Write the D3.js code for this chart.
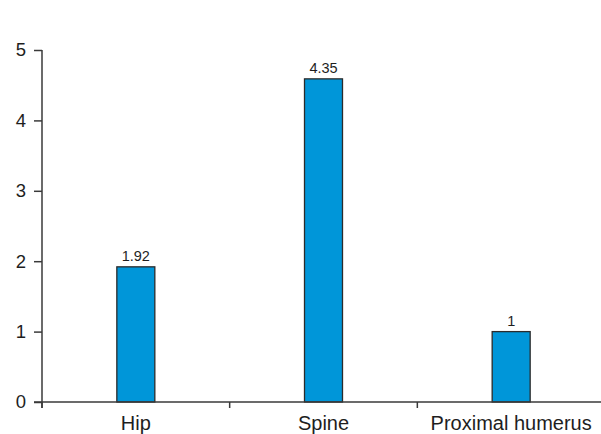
<!DOCTYPE html>
<html><head><meta charset="utf-8">
<script src="https://cdn.jsdelivr.net/npm/d3@7"></script>
<style>body{margin:0;background:#fff;} svg{display:block;font-family:"Liberation Sans",Arial,sans-serif;}</style>
</head><body>
<svg id="c" width="601" height="434"></svg>
<script>
const categories = ["Hip", "Spine", "Proximal humerus"];
const barValues = [1.92, 4.59, 1.0];
const valueLabels = ["1.92", "4.35", "1"];
const yTicks = [0, 1, 2, 3, 4, 5];

const svg = d3.select("#c");
const x = d3.scaleBand().domain(categories).range([42, 605]).paddingInner(0).paddingOuter(0);
const y = d3.scaleLinear().domain([0, 5]).range([402, 50]);
const barW = 38;
const ink = "#3a3a3a";

// bars
svg.selectAll("rect.bar").data(categories).join("rect")
  .attr("class", "bar")
  .attr("x", d => x(d) + x.bandwidth() / 2 - barW / 2)
  .attr("y", (d, i) => y(barValues[i]))
  .attr("width", barW)
  .attr("height", (d, i) => y(0) - y(barValues[i]))
  .attr("fill", "#0096d9")
  .attr("stroke", "#2b2b2b")
  .attr("stroke-width", 1.3);

// value labels
svg.selectAll("text.val").data(categories).join("text")
  .attr("class", "val")
  .attr("x", d => x(d) + x.bandwidth() / 2)
  .attr("y", (d, i) => y(barValues[i]) - 6)
  .attr("text-anchor", "middle")
  .attr("font-size", 14.5)
  .attr("fill", "#1e1e1e")
  .text((d, i) => valueLabels[i]);

// y axis
const gy = svg.append("g").attr("transform", "translate(42,0)")
  .call(d3.axisLeft(y).tickValues(yTicks).tickFormat(d3.format("d")).tickSize(8).tickSizeOuter(0).tickPadding(8));
gy.select(".domain").attr("stroke", ink).attr("stroke-width", 1.5).attr("d", "M0,50V408");
gy.selectAll(".tick line").attr("stroke", ink).attr("stroke-width", 1.5);
gy.selectAll(".tick text").attr("font-size", 18.5).attr("fill", "#1e1e1e").attr("font-family", "Liberation Sans, Arial, sans-serif");

// x axis
const gx = svg.append("g").attr("transform", "translate(0,402)");
gx.append("line").attr("x1", 34).attr("x2", 601).attr("y1", 0).attr("y2", 0)
  .attr("stroke", ink).attr("stroke-width", 1.5);
gx.selectAll("line.xt").data(categories).join("line")
  .attr("class", "xt")
  .attr("x1", d => x(d)).attr("x2", d => x(d))
  .attr("y1", 0).attr("y2", 6)
  .attr("stroke", ink).attr("stroke-width", 1.5);
gx.selectAll("text.cat").data(categories).join("text")
  .attr("class", "cat")
  .attr("x", d => x(d) + x.bandwidth() / 2)
  .attr("y", 27.5)
  .attr("text-anchor", "middle")
  .attr("font-size", 20)
  .attr("fill", "#1e1e1e")
  .text(d => d);
</script>
</body></html>
